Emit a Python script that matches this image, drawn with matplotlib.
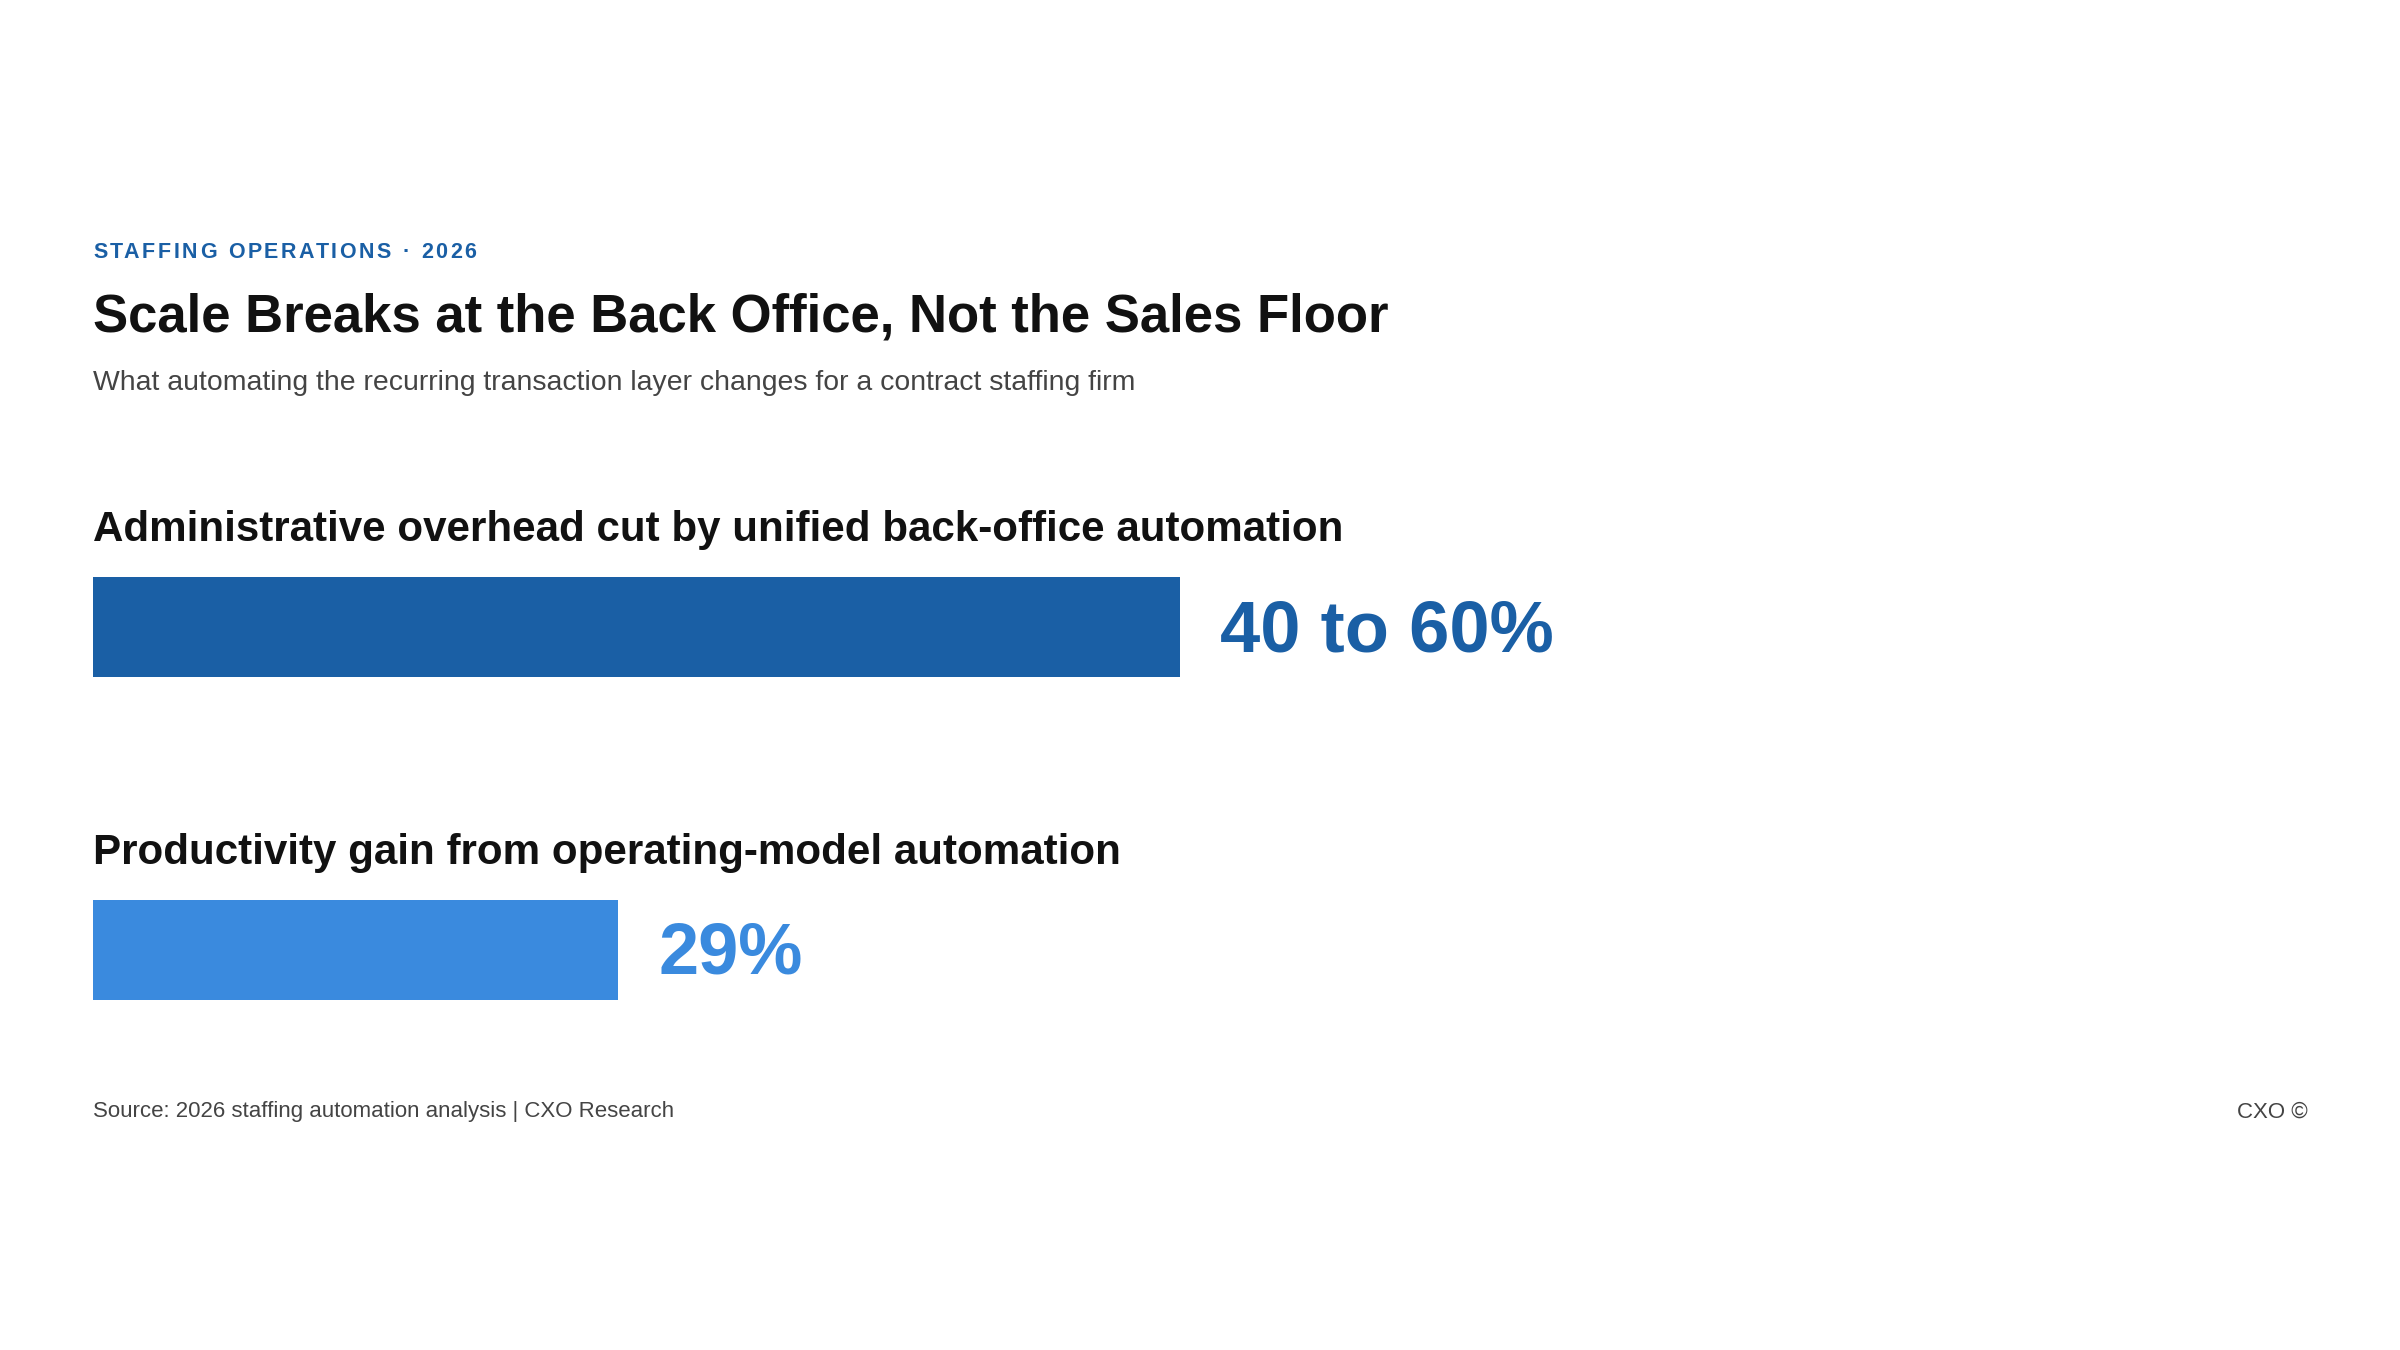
import matplotlib
matplotlib.use("Agg")
import matplotlib.pyplot as plt

plt.rcParams["font.family"] = ["Liberation Sans", "DejaVu Sans"]

# Data
kicker = "STAFFING OPERATIONS · 2026"
title = "Scale Breaks at the Back Office, Not the Sales Floor"
subtitle = "What automating the recurring transaction layer changes for a contract staffing firm"
labels = ["Administrative overhead cut by unified back-office automation",
          "Productivity gain from operating-model automation"]
values = [60, 29]
value_text = ["40 to 60%", "29%"]
bar_colors = ["#1a5fa5", "#3a8ade"]
source = "Source: 2026 staffing automation analysis | CXO Research"
credit = "CXO ©"

W, H = 2400, 1350
fig = plt.figure(figsize=(W / 100, H / 100), dpi=100)
fig.patch.set_facecolor("white")

def px(x, y):
    return x / W, 1 - y / H

left = 93

# Kicker with letter spacing
renderer = fig.canvas.get_renderer()
track = 2.6
ksize = 15.5
kx, ky = px(left, 252)
for i, ch in enumerate(kicker):
    if ch == " ":
        continue
    t1 = fig.text(0, 0, kicker[:i + 1], fontsize=ksize, fontweight="bold")
    t2 = fig.text(0, 0, ch, fontsize=ksize, fontweight="bold")
    w_pre = t1.get_window_extent(renderer).width
    w_ch = t2.get_window_extent(renderer).width
    t1.remove()
    t2.remove()
    x0 = left + (w_pre - w_ch) + i * track
    fig.text(x0 / W, ky, ch, fontsize=ksize, fontweight="bold",
             color="#1a5fa5", va="center", ha="left")

fig.text(*px(left, 318), title, fontsize=38, fontweight="bold",
         color="#111111", va="center", ha="left")
fig.text(*px(left, 383), subtitle, fontsize=20.4,
         color="#444444", va="center", ha="left")

# Bars
label_y = [530, 853]
bar_top = [577, 900]
bar_h = 100
full_w = 1812  # pixels for 100%
for i in range(len(values)):
    fig.text(*px(left, label_y[i]), labels[i], fontsize=30.35, fontweight="bold",
             color="#111111", va="center", ha="left")
    x0, y0 = left / W, 1 - (bar_top[i] + bar_h) / H
    ax = fig.add_axes([x0, y0, full_w / W, bar_h / H])
    ax.barh([0], [values[i]], height=1.0, color=bar_colors[i], align="edge")
    ax.set_xlim(0, 100)
    ax.set_ylim(0, 1)
    ax.axis("off")
    ax.text(values[i] + 2.2, 0.45, value_text[i], fontsize=52, fontweight="bold",
            color=bar_colors[i], va="center", ha="left", transform=ax.transData)

fig.text(*px(left, 1112), source, fontsize=16.0, color="#444444",
         va="center", ha="left")
fig.text(*px(2308, 1112), credit, fontsize=16.0, color="#444444",
         va="center", ha="right")

fig.savefig("out.png", dpi=100, facecolor="white")
